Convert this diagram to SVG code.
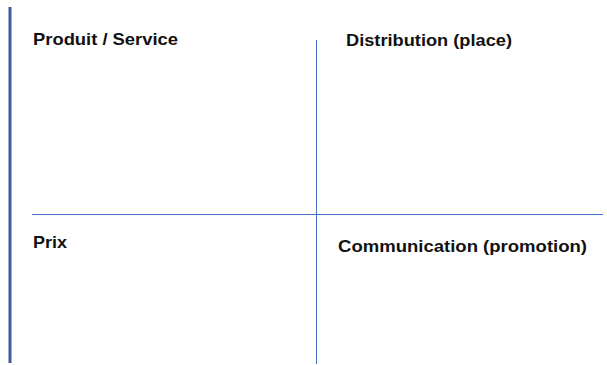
<svg xmlns="http://www.w3.org/2000/svg" width="607" height="365" viewBox="0 0 607 365">
<style>
.t{font-family:"Liberation Sans",Arial,sans-serif;font-weight:bold;font-size:17px;fill:#111}
.ln{stroke:#4472C4;stroke-width:1;fill:none}
</style>
<rect width="607" height="365" fill="#fff"/>
<g id="connectors">
<line x1="10" y1="7" x2="10" y2="363" stroke="#3F5B9A" stroke-width="3"/>
<line class="ln" x1="316.5" y1="40" x2="316.5" y2="364"/>
<line class="ln" x1="32" y1="214.5" x2="603" y2="214.5"/>
</g>
<g id="produit"><text class="t" x="33" y="45" textLength="145" lengthAdjust="spacingAndGlyphs">Produit / Service</text></g>
<g id="distribution"><text class="t" x="346" y="46" textLength="166" lengthAdjust="spacingAndGlyphs">Distribution (place)</text></g>
<g id="prix"><text class="t" x="33" y="248" textLength="34" lengthAdjust="spacingAndGlyphs">Prix</text></g>
<g id="communication"><text class="t" x="338" y="252" textLength="249" lengthAdjust="spacingAndGlyphs">Communication (promotion)</text></g>
</svg>
